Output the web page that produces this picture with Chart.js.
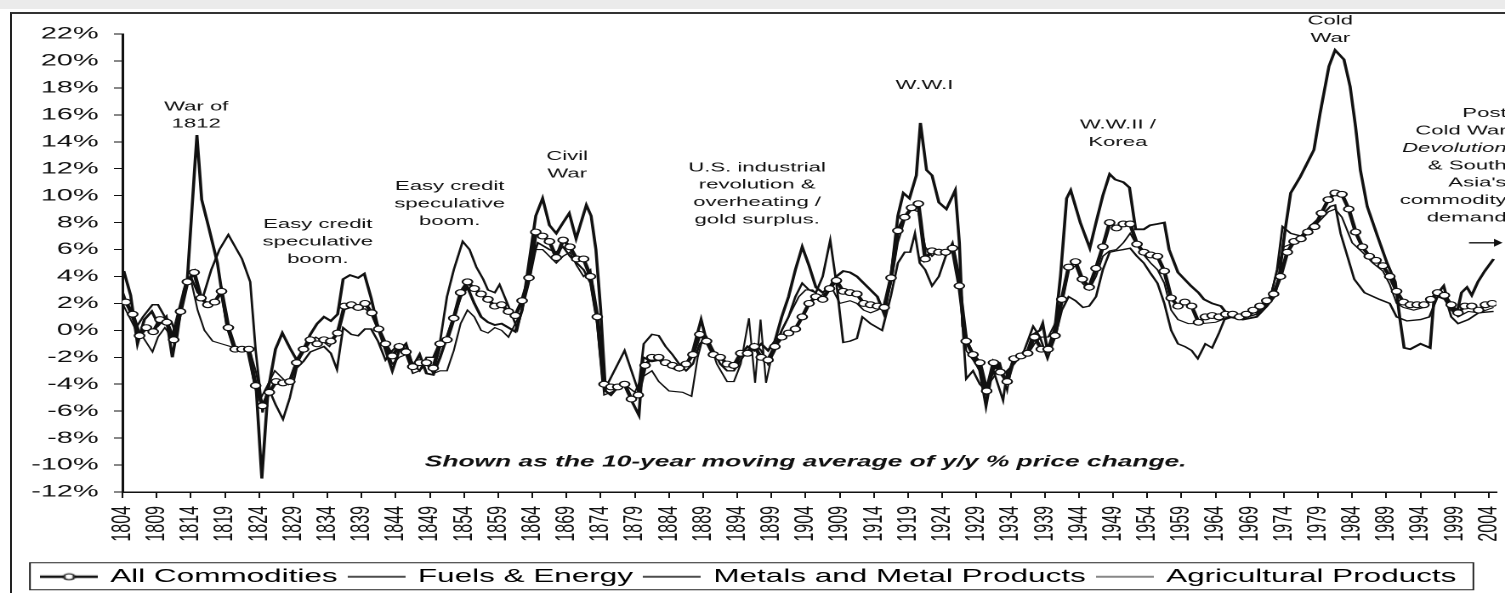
<!DOCTYPE html>
<html>
<head>
<meta charset="utf-8">
<script src="https://cdn.jsdelivr.net/npm/chart.js@4.4.1/dist/chart.umd.min.js"></script>
<style>
  html, body { margin: 0; padding: 0; background: #fff; }
  #page { position: relative; width: 1505px; height: 593px; overflow: hidden; background: #fff; }
  #band { position: absolute; left: 0; top: 0; width: 1505px; height: 9px; background: #ebebeb; }
  #frame { position: absolute; left: 10px; top: 12px; width: 1600px; height: 700px;
           border-left: 2px solid #222; border-top: 2px solid #333; }
  #chart { position: absolute; left: 0; top: 0; }
</style>
</head>
<body>
<div id="page">
  <div id="band"></div>
  <div id="frame"></div>
  <canvas id="chart" width="885" height="593" style="width:1505px;height:593px"></canvas>
</div>
<script>
// the scanned chart is stretched sideways, so the canvas is drawn narrow and widened by css
const FONT = '"Liberation Sans", Arial, Helvetica, sans-serif';

const firstYear = 1804;
const tickYears = [1804, 1809, 1814, 1819, 1824, 1829, 1834, 1839, 1844, 1849, 1854, 1859, 1864,
  1869, 1874, 1879, 1884, 1889, 1894, 1899, 1904, 1909, 1914, 1919, 1924, 1929, 1934, 1939, 1944,
  1949, 1954, 1959, 1964, 1969, 1974, 1979, 1984, 1989, 1994, 1999, 2004];

// All Commodities, one value a year 1804..2004 (%)
const allCommodities = [
  2.1, 1.2, -0.4, 0.2, -0.1, 0.8, 0.6, -0.7, 1.4, 3.6,
  4.3, 2.4, 1.9, 2.1, 2.9, 0.2, -1.4, -1.4, -1.4, -4.1,
  -5.6, -4.6, -3.8, -3.9, -3.8, -2.4, -1.4, -0.7, -1.0, -0.7,
  -0.8, -0.2, 1.8, 1.9, 1.7, 2.0, 1.3, 0.1, -1.0, -1.9,
  -1.2, -1.6, -2.7, -2.4, -2.4, -2.8, -1.0, -0.7, 0.9, 2.8,
  3.6, 3.1, 2.7, 2.3, 1.8, 1.9, 1.4, 1.1, 2.2, 3.9,
  7.3, 7.0, 6.6, 5.4, 6.7, 6.2, 5.3, 5.3, 4.0, 1.0,
  -4.0, -4.2, -4.2, -4.0, -5.1, -4.8, -2.6, -2.0, -2.0, -2.4,
  -2.6, -2.8, -2.5, -1.8, -0.3, -0.8, -1.8, -2.0, -2.5, -2.6,
  -1.7, -1.7, -1.2, -2.0, -2.2, -1.2, -0.5, -0.2, 0.1, 1.0,
  2.0, 2.5, 2.3, 3.1, 3.7, 2.9, 2.8, 2.7, 2.0, 1.9,
  1.8, 1.7, 3.9, 7.4, 8.4, 9.1, 9.4, 5.3, 5.9, 5.8,
  5.8, 6.1, 3.3, -0.8, -1.8, -2.4, -4.5, -2.4, -3.1, -3.8,
  -2.1, -1.9, -1.7, -0.5, -1.4, -1.4, -0.4, 2.3, 4.7, 5.1,
  3.8, 3.2, 4.6, 6.2, 8.0, 7.6, 7.9, 7.9, 6.4, 5.8,
  5.6, 5.5, 4.4, 2.4, 1.8, 2.1, 1.8, 0.6, 1.0, 1.1,
  1.0, 1.2, 1.2, 1.0, 1.2, 1.5, 1.8, 2.2, 2.7, 4.0,
  5.8, 6.6, 6.8, 7.3, 7.7, 8.7, 9.7, 10.2, 10.1, 9.0,
  7.3, 6.2, 5.5, 5.2, 4.8, 4.0, 2.9, 2.1, 1.9, 1.9,
  1.9, 2.3, 2.8, 2.6, 1.9, 1.3, 1.8, 1.8, 1.5, 1.9,
  2.0
];

// [year, %] turning points
const fuelsEnergy = [
  [1804.2, 4.4], [1805.2, 2.6], [1806.2, -1.0], [1807.2, 0.8], [1808.3, 1.4], [1809.3, 0.4],
  [1810.4, 1.0], [1811.3, -2.0], [1812.4, 1.2], [1813.5, 3.8], [1814.5, 11.5], [1814.9, 14.5],
  [1815.6, 9.7], [1816.6, 7.7], [1817.9, 5.0], [1819.3, 0.3], [1820.3, -1.3], [1822.3, -1.4],
  [1823.6, -4.5], [1824.4, -11.0], [1825.3, -4.5], [1826.4, -1.4], [1827.4, -0.2], [1828.5, -1.3],
  [1829.5, -2.2], [1830.5, -1.4], [1831.5, -0.3], [1832.5, 0.5], [1833.5, 1.0], [1834.5, 0.7],
  [1835.5, 1.2], [1836.3, 3.8], [1837.3, 4.1], [1838.5, 3.9], [1839.4, 4.2], [1840.4, 2.4],
  [1841.4, 0.2], [1842.6, -1.6], [1843.5, -3.0], [1844.5, -1.5], [1845.5, -1.0], [1846.5, -2.7],
  [1847.5, -1.8], [1848.5, -3.2], [1849.5, -3.3], [1850.5, -2.0], [1851.5, -0.5], [1852.5, 1.0],
  [1853.5, 2.5], [1854.5, 3.2], [1855.5, 2.0], [1856.5, 1.0], [1857.5, 0.6], [1858.5, 0.4],
  [1859.5, 0.5], [1860.5, 0.2], [1861.5, -0.1], [1862.5, 1.5], [1863.5, 5.0], [1864.5, 8.5],
  [1865.5, 9.8], [1866.5, 7.8], [1867.5, 7.2], [1868.5, 8.0], [1869.4, 8.7], [1870.4, 6.8],
  [1871.9, 9.3], [1872.6, 8.5], [1873.3, 6.0], [1874.0, 1.5], [1874.7, -4.5], [1875.5, -4.8],
  [1876.5, -4.2], [1877.5, -4.0], [1878.5, -5.2], [1879.6, -6.3], [1880.2, -2.0], [1881.5, -2.3],
  [1882.5, -2.2], [1883.5, -2.5], [1884.5, -2.8], [1885.5, -3.0], [1886.5, -2.6], [1887.5, -1.5],
  [1888.7, 0.8], [1889.5, -0.8], [1890.5, -1.8], [1891.5, -2.0], [1892.5, -2.5], [1893.5, -2.8],
  [1894.5, -1.8], [1895.5, -1.2], [1896.5, -1.5], [1897.5, -1.0], [1898.5, -1.5], [1899.5, -0.8],
  [1900.5, 1.0], [1901.5, 2.5], [1902.5, 4.5], [1903.5, 6.2], [1904.5, 4.8], [1905.5, 3.2],
  [1906.5, 2.8], [1907.5, 3.2], [1908.5, 4.0], [1909.5, 4.4], [1910.5, 4.3], [1911.5, 4.0],
  [1912.5, 3.5], [1913.5, 3.0], [1914.5, 2.5], [1915.5, 1.2], [1916.5, 4.0], [1917.5, 8.5],
  [1918.3, 10.2], [1919.2, 9.8], [1920.2, 11.5], [1920.8, 15.4], [1921.7, 11.9], [1922.5, 11.5],
  [1923.5, 9.5], [1924.6, 9.0], [1925.9, 10.4], [1926.5, 6.5], [1927.0, 0.3], [1927.8, -1.0],
  [1928.6, -2.0], [1929.5, -3.0], [1930.4, -5.6], [1931.3, -3.0], [1932.3, -2.5], [1933.3, -3.8],
  [1934.3, -2.4], [1935.5, -2.0], [1936.5, -1.5], [1937.3, -0.3], [1938.3, 0.0], [1938.7, 0.5],
  [1939.4, -1.5], [1940.5, 0.2], [1941.3, 4.0], [1942.2, 9.8], [1942.8, 10.4], [1944.2, 8.0],
  [1945.6, 6.1], [1946.5, 8.0], [1947.5, 10.0], [1948.5, 11.6], [1949.3, 11.2], [1950.5, 11.0],
  [1951.4, 10.6], [1952.3, 7.5], [1953.5, 7.5], [1954.4, 7.8], [1955.5, 7.9], [1956.5, 8.0],
  [1957.2, 6.0], [1958.5, 4.3], [1960.4, 3.3], [1961.5, 2.8], [1962.3, 2.3], [1963.5, 2.0],
  [1964.8, 1.8], [1966.0, 1.0], [1968.0, 0.8], [1970.0, 1.0], [1971.5, 1.8], [1972.6, 2.5],
  [1973.3, 4.0], [1974.2, 7.5], [1975.0, 10.2], [1976.4, 11.4], [1978.4, 13.4], [1979.3, 16.1],
  [1980.6, 19.6], [1981.5, 20.8], [1982.8, 20.1], [1983.7, 18.1], [1984.5, 15.1], [1985.2, 11.9],
  [1986.2, 9.2], [1987.7, 7.0], [1989.1, 5.0], [1990.3, 3.6], [1991.0, 0.8], [1991.6, -1.3],
  [1992.5, -1.4], [1994.0, -1.0], [1995.4, -1.3], [1996.0, 2.5], [1996.6, 2.8], [1997.4, 3.3],
  [1998.2, 1.8], [1999.3, 1.2], [2000.0, 2.8], [2000.8, 3.2], [2001.5, 2.6], [2002.4, 3.6],
  [2003.4, 4.4], [2004.7, 5.3]
];

const metals = [
  [1804.0, 2.9], [1805.0, 1.5], [1806.0, 0.2], [1807.0, 1.0], [1808.4, 1.9], [1809.2, 1.9],
  [1810.2, 1.0], [1811.2, 0.6], [1812.0, -0.5], [1813.0, 3.0], [1814.0, 4.0], [1815.0, 2.8],
  [1815.8, 2.5], [1817.0, 4.5], [1818.2, 6.0], [1819.5, 7.1], [1820.5, 6.2], [1821.5, 5.3],
  [1822.7, 3.6], [1823.5, -1.5], [1824.5, -6.1], [1825.3, -4.2], [1826.4, -5.5], [1827.5, -6.6],
  [1828.5, -5.0], [1829.5, -2.8], [1830.5, -2.3], [1831.5, -1.6], [1832.5, -1.4], [1833.5, -1.2],
  [1834.5, -1.7], [1835.4, -2.9], [1836.3, 0.2], [1837.5, -0.3], [1838.5, -0.4], [1839.5, 0.1],
  [1840.4, 0.1], [1841.4, -0.8], [1842.5, -2.2], [1843.5, -1.5], [1844.5, -1.0], [1845.5, -1.4],
  [1846.5, -2.5], [1847.5, -3.0], [1848.5, -2.0], [1849.5, -2.0], [1850.5, -0.8], [1851.5, 2.5],
  [1852.5, 4.5], [1853.8, 6.6], [1854.8, 6.0], [1855.8, 4.7], [1856.8, 3.8], [1857.5, 3.0],
  [1858.5, 2.8], [1859.2, 3.4], [1860.5, 1.8], [1861.8, 0.1], [1862.8, 2.3], [1863.8, 5.0],
  [1864.8, 6.5], [1865.5, 6.3], [1866.5, 6.0], [1867.5, 5.8], [1868.5, 6.2], [1869.5, 5.5],
  [1870.5, 5.0], [1871.5, 4.5], [1872.5, 3.5], [1873.5, 0.5], [1874.3, -4.0], [1875.0, -4.0],
  [1876.5, -2.5], [1877.5, -1.5], [1878.5, -3.0], [1879.5, -4.5], [1880.3, -1.0], [1881.5, -0.3],
  [1882.5, -0.4], [1883.5, -1.2], [1884.5, -1.8], [1885.5, -2.5], [1886.5, -3.0], [1887.5, -2.5],
  [1888.5, -1.0], [1889.5, -0.5], [1890.5, -1.5], [1891.5, -2.5], [1892.5, -3.0], [1893.5, -3.0],
  [1894.5, -2.2], [1895.5, -1.5], [1896.5, -1.0], [1897.5, -1.5], [1898.5, -2.5], [1899.5, -1.5],
  [1900.5, 0.0], [1901.5, 1.0], [1902.5, 2.5], [1903.5, 3.5], [1904.5, 3.0], [1905.5, 2.8],
  [1906.5, 4.0], [1907.6, 6.7], [1908.5, 3.5], [1909.5, -0.9], [1910.5, -0.8], [1911.5, -0.6],
  [1912.3, 1.0], [1913.5, 0.5], [1915.2, 0.0], [1916.5, 2.6], [1917.5, 5.0], [1918.5, 5.8],
  [1919.3, 5.8], [1920.0, 7.2], [1920.7, 5.0], [1921.5, 4.5], [1922.5, 3.3], [1923.5, 4.0],
  [1924.5, 5.5], [1925.5, 6.5], [1926.5, 4.0], [1927.5, -3.6], [1928.5, -3.0], [1929.5, -4.0],
  [1930.5, -4.5], [1931.5, -3.0], [1932.9, -5.2], [1933.5, -3.0], [1934.5, -2.5], [1936.0, -1.5],
  [1937.3, 0.3], [1938.3, -0.5], [1939.4, -2.1], [1940.5, -0.5], [1941.5, 1.5], [1942.5, 2.5],
  [1943.5, 2.2], [1944.6, 1.7], [1945.5, 1.8], [1946.5, 2.5], [1947.5, 4.5], [1948.5, 5.8],
  [1949.4, 5.9], [1950.5, 6.0], [1951.5, 6.1], [1952.5, 5.5], [1953.5, 5.0], [1954.4, 4.3],
  [1955.5, 3.5], [1956.5, 2.0], [1957.5, 0.0], [1958.5, -1.0], [1959.5, -1.2], [1960.5, -1.5],
  [1961.4, -2.1], [1962.5, -1.0], [1963.5, -1.3], [1964.5, -0.2], [1965.3, 0.8], [1966.5, 1.0],
  [1968.0, 0.9], [1970.0, 1.2], [1972.0, 2.3], [1973.0, 4.5], [1973.8, 7.7], [1975.0, 7.2],
  [1976.5, 7.0], [1978.0, 7.8], [1979.5, 8.5], [1980.8, 9.2], [1981.5, 9.3], [1982.3, 7.2],
  [1983.3, 5.5], [1984.3, 3.8], [1985.8, 2.8], [1988.0, 2.3], [1989.5, 2.0], [1990.5, 1.0],
  [1992.0, 0.7], [1994.0, 0.8], [1995.3, 1.0], [1996.5, 2.5], [1997.5, 2.7], [1998.5, 1.0],
  [1999.5, 0.5], [2001.0, 0.8], [2002.5, 1.3], [2004.7, 1.4]
];

const agricultural = [
  [1804.0, 2.0], [1805.0, 1.0], [1806.0, 0.0], [1807.0, -0.5], [1808.4, -1.6], [1809.2, -0.5],
  [1810.2, 0.2], [1811.2, -0.5], [1812.2, 1.5], [1813.2, 3.5], [1814.0, 3.8], [1815.0, 1.5],
  [1816.0, 0.0], [1817.2, -0.8], [1818.5, -1.0], [1819.8, -1.2], [1821.0, -1.3], [1822.7, -1.6],
  [1823.5, -3.0], [1824.3, -5.0], [1825.3, -4.0], [1826.3, -3.0], [1827.3, -3.5], [1828.3, -4.0],
  [1829.3, -2.5], [1830.3, -1.8], [1831.3, -1.0], [1832.3, -0.5], [1833.3, -0.8], [1834.3, -1.2],
  [1835.3, -0.4], [1836.3, 1.5], [1837.5, 1.7], [1838.5, 1.5], [1839.5, 1.6], [1840.5, 1.2],
  [1841.5, 0.0], [1842.5, -1.2], [1843.5, -2.5], [1844.5, -2.0], [1845.5, -1.8], [1846.5, -3.2],
  [1847.5, -3.0], [1848.5, -2.5], [1849.5, -3.2], [1850.5, -3.0], [1851.5, -3.0], [1852.5, -1.5],
  [1853.5, 0.5], [1854.5, 1.5], [1855.5, 1.0], [1856.5, 0.0], [1857.5, -0.2], [1858.5, 0.2],
  [1859.5, 0.0], [1860.5, -0.5], [1861.5, 0.5], [1862.5, 1.5], [1863.5, 3.5], [1864.5, 6.0],
  [1865.5, 6.0], [1866.5, 5.5], [1867.5, 5.0], [1868.5, 5.5], [1869.5, 5.8], [1870.5, 4.8],
  [1871.5, 4.0], [1872.5, 4.5], [1873.5, 1.0], [1874.5, -4.8], [1876.0, -4.5], [1877.5, -4.0],
  [1879.0, -4.6], [1880.0, -3.5], [1881.5, -3.0], [1882.5, -3.8], [1884.0, -4.5], [1886.0, -4.6],
  [1887.3, -4.9], [1888.2, -2.0], [1889.0, -0.5], [1890.0, -1.0], [1891.0, -2.5], [1892.5, -3.8],
  [1893.5, -3.8], [1894.5, -2.5], [1895.7, 0.9], [1896.6, -3.9], [1897.4, 0.8], [1898.2, -3.9],
  [1899.0, -2.0], [1900.0, -0.5], [1901.0, 0.5], [1902.0, 1.5], [1903.0, 2.5], [1904.0, 3.0],
  [1905.0, 3.0], [1906.0, 2.5], [1907.0, 2.8], [1908.0, 3.0], [1909.0, 2.0], [1910.5, 2.2],
  [1911.5, 2.0], [1912.5, 1.5], [1913.5, 1.3], [1914.5, 1.5], [1915.5, 1.8], [1916.5, 3.5],
  [1917.5, 6.5], [1918.5, 8.2], [1919.5, 9.0], [1920.5, 8.8], [1921.5, 6.2], [1922.5, 5.5],
  [1923.5, 6.0], [1924.5, 5.5], [1925.5, 6.0], [1926.5, 3.5], [1927.5, -1.5], [1928.5, -2.2],
  [1929.5, -3.0], [1930.5, -4.2], [1931.5, -3.5], [1932.5, -2.5], [1933.5, -4.5], [1934.2, -2.5],
  [1935.5, -2.0], [1936.5, -1.8], [1937.5, -1.0], [1938.5, -0.5], [1939.5, -0.5], [1940.5, 0.5],
  [1941.5, 2.0], [1942.5, 4.5], [1943.5, 4.8], [1944.5, 3.5], [1945.5, 3.0], [1946.5, 4.0],
  [1947.5, 5.5], [1948.5, 5.9], [1949.5, 6.0], [1950.5, 6.5], [1951.5, 7.2], [1952.5, 6.3],
  [1953.5, 5.6], [1954.5, 5.0], [1955.5, 4.5], [1956.5, 3.5], [1957.5, 1.5], [1958.5, 0.8],
  [1960.0, 0.5], [1962.0, 0.5], [1964.0, 0.6], [1966.0, 1.0], [1968.0, 0.9], [1970.0, 1.4],
  [1972.0, 2.5], [1973.3, 5.0], [1974.0, 6.2], [1975.5, 6.5], [1977.0, 7.0], [1979.0, 8.0],
  [1980.5, 8.8], [1981.5, 9.0], [1982.5, 8.4], [1984.0, 6.5], [1985.5, 5.8], [1987.0, 5.0],
  [1988.5, 4.4], [1989.5, 3.4], [1990.5, 2.0], [1991.5, 1.7], [1993.0, 1.5], [1994.5, 1.7],
  [1995.5, 2.2], [1996.5, 2.5], [1997.5, 2.3], [1998.5, 1.5], [1999.5, 1.0], [2001.0, 1.4],
  [2002.5, 1.3], [2004.7, 1.7]
];

const seriesNames = ['All Commodities', 'Fuels & Energy', 'Metals and Metal Products', 'Agricultural Products'];

// text notes, anchored in (year, %) of the first line
const notes = [
  { year: 1814.8, value: 16.6, lines: ['War of', '1812'] },
  { year: 1832.6, value: 7.85, lines: ['Easy credit', 'speculative', 'boom.'] },
  { year: 1851.9, value: 10.67, lines: ['Easy credit', 'speculative', 'boom.'] },
  { year: 1869.1, value: 12.9, lines: ['Civil', 'War'] },
  { year: 1896.9, value: 12.07, lines: ['U.S. industrial', 'revolution &', 'overheating /', 'gold surplus.'] },
  { year: 1921.4, value: 18.2, lines: ['W.W.I'] },
  { year: 1949.7, value: 15.26, lines: ['W.W.II /', 'Korea'] },
  { year: 1980.8, value: 22.96, lines: ['Cold', 'War'] },
  { year: 2006.6, value: 16.1, align: 'right', italicLine: 2,
    lines: ['Post', 'Cold War', 'Devolution', '& South', 'Asia\'s', 'commodity', 'demand'] }
];
const footnote = { year: 1904.0, value: -9.78, text: 'Shown as the 10-year moving average of y/y % price change.' };
const arrowNote = { from: 2001.1, to: 2006.0, value: 6.5 };

const LEGEND_SIZE = 18.5;
const LEGEND_PAD = 8;

function toPoints(pairs) {
  return pairs.map(p => ({ x: p[0], y: p[1] }));
}

function legendSymbol(width, withMarker) {
  const c = document.createElement('canvas');
  c.width = 34;
  c.height = 12;
  const g = c.getContext('2d');
  g.strokeStyle = '#111';
  g.lineWidth = width;
  g.beginPath();
  g.moveTo(0, 6);
  g.lineTo(34, 6);
  g.stroke();
  if (withMarker) {
    g.beginPath();
    g.arc(17, 6, 3, 0, Math.PI * 2);
    g.fillStyle = '#fff';
    g.fill();
    g.lineWidth = 1.2;
    g.stroke();
  }
  return c;
}
const legendSymbols = [legendSymbol(2.4, true), legendSymbol(1.6, false), legendSymbol(1.4, false), legendSymbol(1.2, false)];

const notesPlugin = {
  id: 'notes',
  afterDraw(chart) {
    const { ctx } = chart;
    const xs = chart.scales.x, ys = chart.scales.y;
    ctx.save();
    ctx.fillStyle = '#111';
    ctx.textBaseline = 'middle';
    notes.forEach(n => {
      const px = xs.getPixelForValue(n.year);
      const py = ys.getPixelForValue(n.value);
      ctx.textAlign = n.align || 'center';
      n.lines.forEach((t, i) => {
        ctx.font = (n.italicLine === i ? 'italic ' : '') + '13px ' + FONT;
        ctx.fillText(t, px, py + i * 17.4);
      });
    });

    ctx.textAlign = 'center';
    ctx.font = 'italic bold 15.5px ' + FONT;
    ctx.fillText(footnote.text, xs.getPixelForValue(footnote.year), ys.getPixelForValue(footnote.value));

    // little arrow pointing at the latest values
    const ay = ys.getPixelForValue(arrowNote.value);
    const ax0 = xs.getPixelForValue(arrowNote.from);
    const ax1 = xs.getPixelForValue(arrowNote.to);
    ctx.strokeStyle = '#111';
    ctx.lineWidth = 1.3;
    ctx.beginPath();
    ctx.moveTo(ax0, ay);
    ctx.lineTo(ax1 - 4, ay);
    ctx.stroke();
    ctx.beginPath();
    ctx.moveTo(ax1 - 5, ay - 4);
    ctx.lineTo(ax1, ay);
    ctx.lineTo(ax1 - 5, ay + 4);
    ctx.closePath();
    ctx.fill();

    // box round the legend
    const boxes = chart.legend.legendHitBoxes;
    if (boxes && boxes.length) {
      const first = boxes[0], last = boxes[boxes.length - 1];
      const cy = first.top + first.height / 2;
      ctx.lineWidth = 1;
      ctx.strokeStyle = '#222';
      ctx.strokeRect(first.left - 8, cy - 14, last.left + last.width - first.left + 18, 27);
    }
    ctx.restore();
  }
};

const data = {
  datasets: [
    {
      label: seriesNames[0],
      data: allCommodities.map((v, i) => ({ x: firstYear + i + 0.5, y: v })),
      borderColor: '#111',
      borderWidth: 2.4,
      pointRadius: 2.9,
      pointBackgroundColor: '#fff',
      pointBorderColor: '#111',
      pointBorderWidth: 1.1,
      tension: 0
    },
    {
      label: seriesNames[1],
      data: toPoints(fuelsEnergy),
      borderColor: '#111',
      borderWidth: 1.8,
      pointRadius: 0,
      tension: 0
    },
    {
      label: seriesNames[2],
      data: toPoints(metals),
      borderColor: '#111',
      borderWidth: 1.4,
      pointRadius: 0,
      tension: 0
    },
    {
      label: seriesNames[3],
      data: toPoints(agricultural),
      borderColor: '#111',
      borderWidth: 1.1,
      pointRadius: 0,
      tension: 0
    }
  ]
};

const chartConfig = {
  type: 'line',
  data,
  options: {
    responsive: false,
    devicePixelRatio: 2,
    animation: false,
    events: [],
    layout: { padding: { top: 34, right: 3, bottom: -3, left: 0 } },
    plugins: {
      tooltip: { enabled: false },
      legend: {
        position: 'bottom',
        labels: {
          usePointStyle: true,
          pointStyleWidth: 30,
          padding: LEGEND_PAD,
          color: '#111',
          font: { family: FONT, size: LEGEND_SIZE },
          generateLabels: chart => chart.data.datasets.map((ds, i) => ({
            text: ds.label,
            pointStyle: legendSymbols[i],
            fillStyle: '#111',
            strokeStyle: '#111',
            lineWidth: 0,
            hidden: false,
            datasetIndex: i
          }))
        }
      }
    },
    scales: {
      x: {
        type: 'linear',
        min: 1804,
        max: 2005.1,
        afterBuildTicks: axis => { axis.ticks = tickYears.map(v => ({ value: v })); },
        afterFit: scale => {
          scale.height = 67.5;
          // the rotated last label must not shrink the plot
          scale.paddingLeft = 0;
          scale.paddingRight = 0;
        },
        grid: { drawOnChartArea: false, drawTicks: true, tickLength: 6, color: '#111', lineWidth: 1 },
        border: { display: true, color: '#111', width: 1.5 },
        ticks: {
          autoSkip: false,
          minRotation: 90,
          maxRotation: 90,
          padding: 8,
          color: '#111',
          font: { family: FONT, size: 16 },
          callback: v => String(v)
        }
      },
      y: {
        min: -12,
        max: 22,
        afterFit: scale => { scale.width = 72; },
        grid: { drawOnChartArea: false, drawTicks: true, tickLength: 5, color: '#111', lineWidth: 1 },
        border: { display: true, color: '#111', width: 1.5 },
        ticks: {
          stepSize: 2,
          padding: 9,
          color: '#111',
          font: { family: FONT, size: 17 },
          callback: v => v + '%'
        }
      }
    }
  },
  plugins: [notesPlugin]
};

new Chart(document.getElementById('chart'), chartConfig);
</script>
</body>
</html>
